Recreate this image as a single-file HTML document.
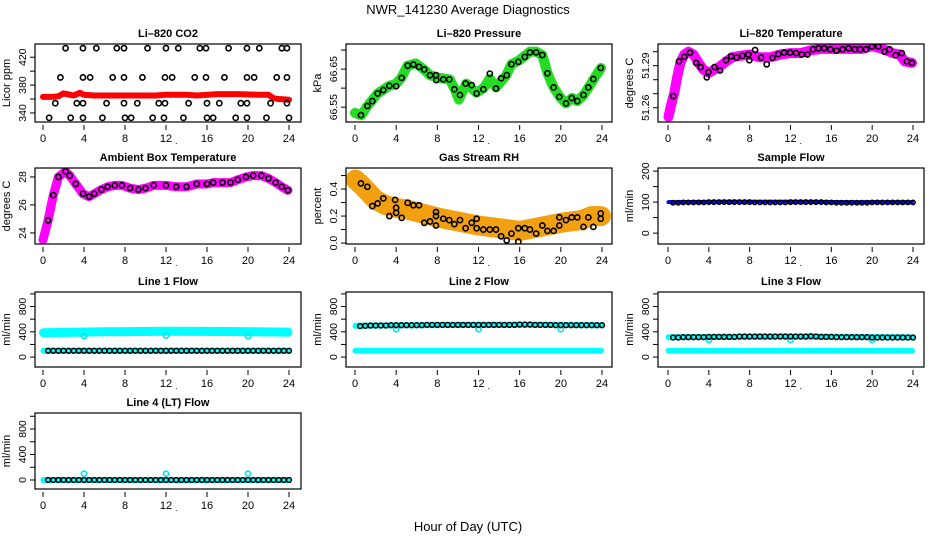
<!DOCTYPE html>
<html><head><meta charset="utf-8"><style>
html,body{margin:0;padding:0;background:#fff;}
svg{display:block;font-family:"Liberation Sans",sans-serif;}
</style></head><body>
<svg id="chart" width="936" height="540" viewBox="0 0 936 540">
<text x="468" y="14" text-anchor="middle" font-size="13">NWR_141230  Average Diagnostics</text>
<text x="468" y="531" text-anchor="middle" font-size="13">Hour of Day (UTC)</text>
</svg>
<script>
// ---- data ----
const xTicks=[0,4,8,12,16,20,24];
const co2Hours=[2.2,3.9,5.2,7.2,7.9,10.2,12.0,13.2,15.3,15.9,18.1,19.9,21.1,23.3,23.8,
1.7,3.9,4.6,6.8,7.9,9.7,11.9,12.6,14.8,15.9,17.7,19.9,20.6,22.8,23.8,
1.2,3.3,3.9,6.2,7.9,9.2,11.3,11.9,14.2,16.0,17.2,19.3,19.9,22.2,23.8,
0.6,2.7,3.9,5.8,8.0,8.6,10.7,11.8,13.7,16.0,16.6,18.8,19.9,21.8,24.0];
const co2Vals=[433,433,433,433,433,433,433,433,433,433,433,433,433,433,433,
391,391,391,391,391,391,391,391,391,391,391,391,391,391,391,
354,354,354,354,354,354,354,354,354,354,354,354,354,354,354,
333,333,333,333,333,333,333,333,333,333,333,333,333,333,333];
const co2BandHours=[0,1,1.5,2,3,3.6,4,5,8,11,12,14,15,17,19,21,22,22.5,23,24];
const co2BandVals=[363,363,364,368,365,369,366,365,365,365,366,366,365,367,367,366,366,361,360,359];

const pressHours=[0.58,1.2,1.68,2.2,2.75,3.34,4.0,4.54,5.12,5.67,6.22,6.73,7.29,7.87,7.9,8.58,9.16,9.65,10.2,10.75,11.34,11.82,12.47,13.1,13.7,14.2,14.74,15.2,15.87,16.5,17.0,17.6,18.2,18.7,19.3,19.85,20.5,21.06,21.6,22.2,22.67,23.16,23.88];
const pressVals=[66.529,66.553,66.566,66.586,66.595,66.606,66.605,66.627,66.659,66.662,66.656,66.649,66.634,66.634,66.621,66.623,66.623,66.597,66.582,66.612,66.608,66.586,66.597,66.638,66.599,66.626,66.634,66.663,66.669,66.682,66.694,66.694,66.687,66.639,66.602,66.577,66.56,66.574,66.566,66.582,66.602,66.624,66.653];
const pressBandHours=[0,0.6,1.2,2.2,3.3,4.0,4.5,5.1,5.9,6.7,7.3,8.0,9.2,9.7,10.1,10.8,11.8,12.5,13.1,13.7,14.7,15.2,15.9,16.5,17.0,17.6,18.2,18.7,19.3,19.9,20.5,21.1,21.6,22.2,22.7,23.2,23.9];
const pressBandVals=[66.535,66.529,66.553,66.586,66.606,66.612,66.627,66.659,66.665,66.649,66.634,66.628,66.623,66.597,66.570,66.612,66.588,66.600,66.625,66.602,66.634,66.663,66.672,66.685,66.696,66.696,66.687,66.639,66.602,66.577,66.560,66.574,66.566,66.582,66.602,66.624,66.653];

const tempHours=[0.52,1.08,1.6,2.16,2.75,3.2,3.8,3.96,4.55,5.1,5.69,6.18,6.73,7.29,7.87,7.97,8.53,9.12,9.67,10.23,10.8,11.37,11.96,12.55,13.1,13.66,14.2,14.74,15.3,15.9,16.5,17.1,17.7,18.3,18.82,19.4,19.97,20.6,21.2,21.7,22.3,22.9,23.4,23.9];
const tempVals=[51.2683,51.2931,51.2963,51.2993,51.292,51.289,51.2817,51.2854,51.289,51.2866,51.2939,51.2968,51.2958,51.2971,51.298,51.2939,51.3012,51.2958,51.291,51.2956,51.2983,51.2993,51.2993,51.299,51.298,51.298,51.3017,51.3024,51.3024,51.3017,51.3007,51.3017,51.3024,51.3017,51.3017,51.3017,51.3037,51.3037,51.3,51.3017,51.2975,51.299,51.2931,51.292];
const tempBandHours=[0.05,0.3,0.6,0.9,1.2,1.6,2.0,2.5,3.0,3.5,4.0,4.5,5.0,5.7,6.3,7.0,8.0,9.0,10.0,11.0,12.0,13.0,14.0,15.0,16.0,17.0,18.0,19.0,20.0,21.0,22.0,22.7,23.2,23.9];
const tempBandVals=[51.2535,51.262,51.27,51.282,51.292,51.298,51.300,51.298,51.292,51.287,51.285,51.287,51.289,51.293,51.296,51.297,51.298,51.296,51.296,51.298,51.299,51.299,51.301,51.302,51.302,51.302,51.302,51.302,51.304,51.302,51.299,51.298,51.293,51.292];

const ambHours=[0,0.5,1.0,1.5,2.2,2.6,3.2,3.9,4.5,5,5.7,6.3,7,7.7,8.5,9.3,10,10.8,12,13,14,15,16,16.6,17.5,18.3,19,19.8,20.5,21.3,22,22.7,23.3,23.9];
const ambVals=[23.5,24.9,26.7,28.0,28.4,28.1,27.5,26.8,26.6,26.8,27.1,27.3,27.4,27.4,27.2,27.1,27.2,27.4,27.4,27.3,27.3,27.5,27.5,27.6,27.6,27.6,27.8,28.0,28.1,28.1,27.9,27.6,27.3,27.05];

const rhHours=[0.58,1.2,1.68,2.2,2.75,3.34,3.9,4.0,4.0,4.54,5.12,5.67,6.22,6.73,7.29,7.87,7.87,7.87,8.58,9.16,9.65,10.2,10.75,11.34,11.82,11.82,12.47,13.1,13.7,14.2,14.74,15.2,15.87,15.87,16.5,17.0,17.6,18.2,18.7,19.3,19.85,19.85,20.5,21.06,21.6,22.2,22.67,23.16,23.88,23.88];
const rhVals=[0.442,0.417,0.274,0.294,0.331,0.2,0.32,0.261,0.224,0.187,0.298,0.28,0.28,0.15,0.16,0.23,0.2,0.13,0.18,0.17,0.14,0.17,0.11,0.15,0.18,0.11,0.10,0.10,0.10,0.05,0.02,0.07,0.11,0.01,0.11,0.10,0.07,0.13,0.09,0.09,0.19,0.13,0.17,0.19,0.19,0.12,0.19,0.12,0.22,0.18];
const rhBandHours=[0.05,0.5,1,2,3,4,5,6,8,10,12,14,16,18,20,22,23,23.9];
const rhBandVals=[0.47,0.44,0.40,0.32,0.28,0.26,0.25,0.23,0.19,0.16,0.13,0.11,0.09,0.12,0.15,0.17,0.2,0.2];

const flowHours=[0.5,1,1.5,2,2.5,3,3.5,4,4.5,5,5.5,6,6.5,7,7.5,8,8.5,9,9.5,10,10.5,11,11.5,12,12.5,13,13.5,14,14.5,15,15.5,16,16.5,17,17.5,18,18.5,19,19.5,20,20.5,21,21.5,22,22.5,23,23.5,24];
const sampleVals=[98,98,99,99,99,99,99,100,100,100,100,100,100,100,100,100,99,99,99,99,99,99,99,100,100,100,100,100,100,100,99,99,98,98,98,98,98,98,98,99,99,99,99,99,99,99,99,99];
const line1Vals=[100,100,100,100,100,100,100,100,100,100,100,100,100,100,100,100,100,100,100,100,100,100,100,100,100,100,100,100,100,100,100,100,100,100,100,100,100,100,100,100,100,100,100,100,100,100,100,100];
const line2Vals=[490,495,500,500,500,500,505,505,505,505,505,505,505,510,510,510,510,510,510,510,510,510,510,510,510,510,510,510,510,510,510,515,515,515,510,510,510,510,505,505,505,505,505,505,505,505,505,505];
const line3Vals=[310,310,315,315,315,315,315,320,320,320,320,320,320,325,325,325,325,325,325,325,325,325,325,325,325,325,325,330,325,320,320,320,315,315,315,315,315,315,315,310,310,310,310,310,310,310,310,310];
const line4Vals=[0,0,0,0,0,0,0,0,0,0,0,0,0,0,0,0,0,0,0,0,0,0,0,0,0,0,0,0,0,0,0,0,0,0,0,0,0,0,0,0,0,0,0,0,0,0,0,0];
const bandHours=[0.05,6,12,18,23.9];
const sampleBand=[100,101,101,100,100];
const line1Hi=[385,400,410,405,395];
const line1Lo=[100,100,100,100,100];
const line2Hi=[495,505,510,510,505];
const line2Lo=[100,100,100,100,100];
const line3Hi=[315,320,325,320,315];
const line3Lo=[100,100,100,100,100];
const line4Lo=[0,0,0,0,0];
const spikeHours=[4,12,20];
const line1Spike=[330,340,330];
const line2Spike=[440,440,440];
const line3Spike=[270,270,270];
const line4Spike=[100,100,100];

// ---- drawing ----
const NS='http://www.w3.org/2000/svg';
const svg=document.getElementById('chart');
function mk(tag,attrs,parent){const e=document.createElementNS(NS,tag);for(const k in attrs)e.setAttribute(k,attrs[k]);(parent||svg).appendChild(e);return e;}
const cols=[{l:35,r:301,x0:43,x24:289},{l:346,r:612,x0:355,x24:602},{l:658,r:924,x0:668,x24:913}];
const rows=[{t:44,b:122},{t:168,b:244},{t:292,b:367},{t:413,b:489}];

function panel(name,title,ci,ri,ylim,yticks,ylabels,ylab){
  const c=cols[ci],r=rows[ri];
  const g=mk('g',{});
  
  
  const xs=h=>c.x0+(c.x24-c.x0)*h/24;
  const ys=v=>r.b-(v-ylim[0])/(ylim[1]-ylim[0])*(r.b-r.t);
  const t=mk('text',{x:(c.l+c.r)/2,y:r.t-7,'text-anchor':'middle','font-size':11,'font-weight':'bold'},g);
  t.textContent=title;
  
  
  const plot=mk('g',{},g);
  
  
  const xa=mk('g',{},g);
  
  
  xTicks.forEach(v=>{
    mk('line',{x1:xs(v),x2:xs(v),y1:r.b+3,y2:r.b+8,stroke:'#000','stroke-width':1},xa);
    const tx=mk('text',{x:xs(v),y:r.b+20,'text-anchor':'middle','font-size':11},xa);
    tx.textContent=v;
  });
  const dot=mk('text',{x:xs(13),y:r.b+22,'text-anchor':'middle','font-size':9},xa);dot.textContent='.';
  const ya=mk('g',{},g);
  
  
  yticks.forEach((v,i)=>{
    mk('line',{x1:c.l-5,x2:c.l,y1:ys(v),y2:ys(v),stroke:'#000','stroke-width':1},ya);
    if(ylabels[i]!==''){
      const tx=mk('text',{x:0,y:0,'text-anchor':'middle','font-size':10.5,transform:`translate(${c.l-9},${ys(v)}) rotate(-90)`},ya);
      tx.textContent=ylabels[i];
    }
  });
  const yt=mk('text',{x:0,y:0,'text-anchor':'middle','font-size':11,transform:`translate(${c.l-25},${(r.t+r.b)/2}) rotate(-90)`},g);
  yt.textContent=ylab;
  
  
  mk('rect',{x:c.l,y:r.t,width:c.r-c.l,height:r.b-r.t,fill:'none',stroke:'#000','stroke-width':1.2},g);
  const clipId='clip'+ci+ri;
  const cp=mk('clipPath',{id:clipId},g);mk('rect',{x:c.l,y:r.t,width:c.r-c.l,height:r.b-r.t},cp);
  plot.setAttribute('clip-path',`url(#${clipId})`);
  return {
    band(hs,vs,color,w,nm){
      const d=hs.map((h,i)=>(i?'L':'M')+xs(h).toFixed(1)+','+ys(vs[i]).toFixed(1)).join('');
      const p=mk('path',{d,fill:'none',stroke:color,'stroke-width':w,'stroke-linecap':'round','stroke-linejoin':'round'},plot);
      
      
    },
    pts(hs,vs,color,rad,sw,nm){
      const gg=mk('g',{},plot);
      
      
      hs.forEach((h,i)=>{mk('circle',{cx:xs(h),cy:ys(vs[i]),r:rad,fill:'none',stroke:color,'stroke-width':sw},gg);});
    }
  };
}

let p;
p=panel('co2','Li\u2013820 CO2',0,0,[327,439],[340,360,380,400,420],['340','','380','','420'],'Licor ppm');
p.band(co2BandHours,co2BandVals,'#ff0000',6,'co2-series');
p.pts(co2Hours,co2Vals,'#000',2.6,1.6,'co2-hourly-points');

p=panel('pressure','Li\u2013820 Pressure',1,0,[66.511,66.716],[66.55,66.60,66.65,66.70],['66.55','','66.65',''],'kPa');
p.band(pressBandHours,pressBandVals,'#22dd22',10,'pressure-series');
p.pts(pressHours,pressVals,'#000',2.6,1.6,'pressure-hourly-points');

p=panel('temperature','Li\u2013820 Temperature',2,0,[51.2498,51.3055],[51.26,51.27,51.28,51.29,51.30],['51.26','','','51.29',''],'degrees C');
p.band(tempBandHours,tempBandVals,'#ff00ff',10,'temperature-series');
p.pts(tempHours,tempVals,'#000',2.6,1.6,'temperature-hourly-points');

p=panel('ambient','Ambient Box Temperature',0,1,[23.21,28.64],[24,26,28],['24','26','28'],'degrees C');
p.band(ambHours,ambVals,'#ff00ff',9,'ambient-series');
p.pts(ambHours.slice(1),ambVals.slice(1),'#000',2.6,1.6,'ambient-hourly-points');

p=panel('rh','Gas Stream RH',1,1,[-0.007,0.556],[0,0.1,0.2,0.3,0.4,0.5],['0.0','','0.2','','0.4',''],'percent');
p.band(rhBandHours,rhBandVals,'#f2a010',20,'rh-series');
p.pts(rhHours,rhVals,'#000',2.6,1.6,'rh-hourly-points');

p=panel('sample-flow','Sample Flow',2,1,[-35,210],[0,50,100,150,200],['0','','100','','200'],'ml/min');
p.band(bandHours,sampleBand,'#0000ff',4,'sample-flow-series');
p.pts(flowHours,sampleVals,'#000',2.2,1.5,'sample-flow-hourly-points');

const fl=[-157,1030],ft=[0,200,400,600,800,1000],fll=['0','','400','','800',''];
p=panel('line1','Line 1 Flow',0,2,fl,ft,fll,'ml/min');
p.band(bandHours,line1Hi,'#00ffff',9,'line1-flow-series');
p.band(bandHours,line1Lo,'#00ffff',6,'line1-low-series');
p.pts(spikeHours,line1Spike,'#00e5e5',2.6,1.6,'line1-spikes');
p.pts(flowHours,line1Vals,'#000',2.4,1.5,'line1-hourly-points');

p=panel('line2','Line 2 Flow',1,2,fl,ft,fll,'ml/min');
p.band(bandHours,line2Lo,'#00ffff',6,'line2-low-series');
p.band(bandHours,line2Hi,'#00ffff',6,'line2-flow-series');
p.pts(spikeHours,line2Spike,'#00e5e5',2.6,1.6,'line2-spikes');
p.pts(flowHours,line2Vals,'#000',2.4,1.5,'line2-hourly-points');

p=panel('line3','Line 3 Flow',2,2,fl,ft,fll,'ml/min');
p.band(bandHours,line3Lo,'#00ffff',6,'line3-low-series');
p.band(bandHours,line3Hi,'#00ffff',6,'line3-flow-series');
p.pts(spikeHours,line3Spike,'#00e5e5',2.6,1.6,'line3-spikes');
p.pts(flowHours,line3Vals,'#000',2.4,1.5,'line3-hourly-points');

p=panel('line4','Line 4 (LT) Flow',0,3,[-141,1051],ft,fll,'ml/min');
p.band(bandHours,line4Lo,'#00ffff',6,'line4-flow-series');
p.pts(spikeHours,line4Spike,'#00e5e5',2.6,1.6,'line4-spikes');
p.pts(flowHours,line4Vals,'#000',2.4,1.5,'line4-hourly-points');
</script>
</body></html>
